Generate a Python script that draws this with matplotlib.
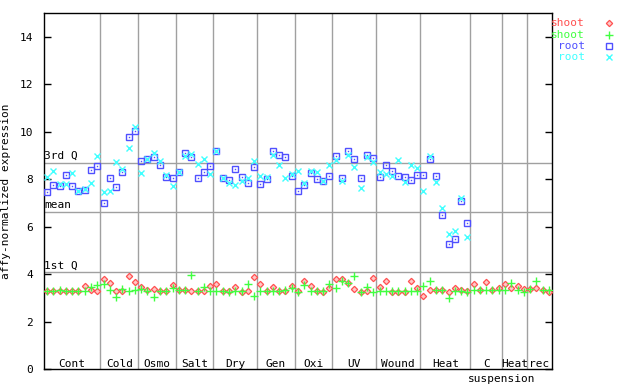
import matplotlib
matplotlib.use("Agg")
import matplotlib.pyplot as plt
from matplotlib.lines import Line2D
import numpy as np

# ---------------- data ----------------
group_names = ["Cont", "Cold", "Osmo", "Salt", "Dry", "Gen", "Oxi", "UV",
               "Wound", "Heat", "C", "Heat", "rec"]
group_sizes = [9, 6, 6, 6, 7, 6, 6, 7, 7, 8, 5, 4, 4]

shoot_red = [3.29, 3.29, 3.29, 3.29, 3.29, 3.29, 3.50, 3.33, 3.29,
             3.79, 3.62, 3.29, 3.29, 3.92, 3.67,
             3.46, 3.33, 3.37, 3.29, 3.29, 3.54,
             3.33, 3.33, 3.29, 3.29, 3.29, 3.50,
             3.58, 3.29, 3.29, 3.46, 3.25, 3.29, 3.88,
             3.58, 3.29, 3.46, 3.29, 3.29, 3.50,
             3.27, 3.70, 3.49, 3.27, 3.23, 3.40,
             3.78, 3.78, 3.61, 3.36, 3.23, 3.27, 3.82,
             3.44, 3.70, 3.23, 3.23, 3.23, 3.70, 3.40,
             3.06, 3.32, 3.32, 3.32, 3.23, 3.40, 3.32, 3.27,
             3.57, 3.32, 3.65, 3.32, 3.40,
             3.57, 3.40, 3.49, 3.36,
             3.36, 3.40, 3.32, 3.23]

shoot_green = [3.29, 3.29, 3.33, 3.29, 3.29, 3.29, 3.29, 3.46, 3.54,
               3.58, 3.33, 3.03, 3.37, 3.29, 3.33,
               3.37, 3.29, 3.03, 3.29, 3.29, 3.41,
               3.33, 3.33, 3.96, 3.29, 3.46, 3.29,
               3.29, 3.29, 3.25, 3.29, 3.29, 3.58, 3.08,
               3.29, 3.29, 3.29, 3.29, 3.33, 3.41,
               3.23, 3.53, 3.27, 3.27, 3.27, 3.57,
               3.40, 3.70, 3.61, 3.91, 3.23, 3.44, 3.23,
               3.27, 3.27, 3.27, 3.27, 3.27, 3.27, 3.27,
               3.49, 3.70, 3.32, 3.32, 2.98, 3.27, 3.27, 3.23,
               3.32, 3.32, 3.32, 3.32, 3.32,
               3.32, 3.61, 3.32, 3.23,
               3.36, 3.70, 3.32, 3.32]

root_blue = [7.45, 7.74, 7.70, 8.16, 7.70, 7.51, 7.54, 8.37, 8.55,
             6.98, 8.04, 7.66, 8.29, 9.76, 10.02,
             8.75, 8.84, 8.92, 8.58, 8.08, 8.04,
             8.29, 9.09, 8.92, 8.04, 8.29, 8.54,
             9.17, 8.04, 7.95, 8.41, 8.08, 7.83, 8.50,
             7.78, 7.99, 9.17, 9.00, 8.92, 8.12,
             7.49, 7.74, 8.25, 7.99, 7.91, 8.12,
             8.96, 8.04, 9.17, 8.84, 8.04, 9.00, 8.88,
             8.08, 8.58, 8.33, 8.12, 8.08, 7.95, 8.16,
             8.16, 8.84, 8.12, 6.48, 5.25, 5.47, 7.07, 6.14]

root_cyan = [8.09, 8.33, 7.80, 7.80, 8.25, 7.51, 7.60, 7.83, 8.96,
             7.45, 7.49, 8.71, 8.41, 9.30, 10.19,
             8.25, 8.84, 9.09, 8.75, 8.16, 7.70,
             8.29, 8.96, 9.07, 8.63, 8.84, 8.20,
             9.17, 8.04, 7.83, 7.74, 7.91, 8.04, 8.75,
             8.12, 8.08, 9.00, 8.58, 8.04, 8.20,
             8.33, 7.83, 8.33, 8.29, 7.91, 8.58,
             8.80, 7.91, 9.00, 8.50, 7.61, 8.92, 8.71,
             8.29, 8.20, 8.12, 8.80, 7.87, 8.58, 8.46,
             7.49, 8.96, 7.87, 6.77, 5.68, 5.80, 7.19, 5.55]

ref_lines = {"3rd Q": 8.68, "mean": 6.60, "1st Q": 4.07}
yticks = [0, 2, 4, 6, 8, 10, 12, 14]

# ---------------- style ----------------
RED = "#ff5050"
GREEN = "#40ff40"
BLUE = "#5050ff"
CYAN = "#40ffff"
GRAY = "#a0a0a0"
FONT = "DejaVu Sans Mono"
plt.rcParams["font.family"] = [FONT]

fig = plt.figure(figsize=(6.4, 3.84), dpi=100)
ax = fig.add_axes([44 / 640, 15 / 384, 508 / 640, 356 / 384])

n = len(shoot_red)
x_all = np.arange(n)

# separators
bounds = np.cumsum(group_sizes)
for b in bounds[:-1]:
    ax.axvline(b - 0.5, color=GRAY, lw=1, zorder=1)
for name, val in ref_lines.items():
    ax.axhline(val, color=GRAY, lw=1, zorder=1)
    ax.text(-0.5, val + 0.08, name, fontsize=8, ha="left", va="bottom",
            color="black", zorder=2)

# group labels
starts = np.concatenate([[0], bounds[:-1]])
for name, s, c in zip(group_names, starts, group_sizes):
    ax.text(s + c / 2 - 0.5, 0.02, name, fontsize=8, ha="center", va="bottom")
ax.text(72.5, -0.2, "suspension", fontsize=8, ha="center", va="top",
        clip_on=False)

# data series
RED_KW = dict(marker="D", ms=3.2, mfc="#ffc8c8", mec=RED, mew=0.9)
GREEN_KW = dict(marker="+", ms=5.5, mec=GREEN, mew=1.0)
BLUE_KW = dict(marker="s", ms=4.2, mfc="none", mec=BLUE, mew=1.0)
CYAN_KW = dict(marker="x", ms=4.2, mec=CYAN, mew=1.0)

ax.plot(x_all, shoot_red, ls="none", zorder=3, **RED_KW)
ax.plot(x_all, shoot_green, ls="none", zorder=4, **GREEN_KW)
xr = np.arange(len(root_blue))
ax.plot(xr, root_blue, ls="none", zorder=5, **BLUE_KW)
ax.plot(xr, root_blue, ls="none", marker="s", ms=1.0, mfc=BLUE,
        mec=BLUE, mew=0, zorder=5)
ax.plot(xr, root_cyan, ls="none", zorder=6, **CYAN_KW)

ax.set_xlim(-0.5, n - 0.5)
ax.set_ylim(0, 15)
ax.set_yticks(yticks)
ax.set_yticklabels([str(t) for t in yticks], fontsize=8)
ax.set_xticks([])
ax.tick_params(axis="y", direction="in", length=5, width=1, right=True,
               left=True, labelright=False, pad=8)
for sp in ax.spines.values():
    sp.set_color("black")
    sp.set_linewidth(1)
ax.set_ylabel("affy-normalized expression", fontsize=8, labelpad=6)

# legend (manual, outside the plot)
leg = [("shoot", RED, RED_KW), ("shoot", GREEN, GREEN_KW),
       ("root", BLUE, BLUE_KW), ("root", CYAN, CYAN_KW)]
ys = [23.3, 34.7, 45.7, 56.7]
for (label, col, kw), yp in zip(leg, ys):
    yf = 1 - yp / 384
    fig.text(585 / 640, yf, label, color=col, fontsize=8, ha="right",
             va="center")
    fig.add_artist(Line2D([609 / 640], [yf], transform=fig.transFigure,
                          ls="none", **kw))

fig.savefig("out.png", dpi=100)
